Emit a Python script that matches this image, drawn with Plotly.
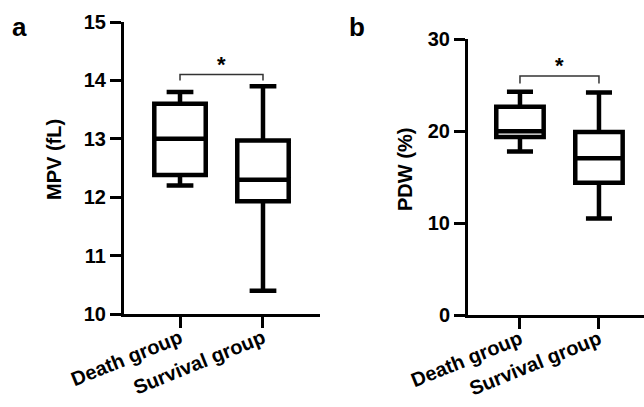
import plotly.graph_objects as go

groups = ["Death group", "Survival group"]

# Panel a: MPV (fL)
mpv_min = [12.2, 10.4]
mpv_q1 = [12.38, 11.93]
mpv_med = [13.0, 12.3]
mpv_q3 = [13.6, 12.97]
mpv_max = [13.8, 13.9]
mpv_sig_y = 14.1
mpv_ticks = [10, 11, 12, 13, 14, 15]

# Panel b: PDW (%)
pdw_min = [17.8, 10.5]
pdw_q1 = [19.37, 14.4]
pdw_med = [20.0, 17.05]
pdw_q3 = [22.65, 19.9]
pdw_max = [24.3, 24.2]
pdw_sig_y = 26.0
pdw_ticks = [0, 10, 20, 30]

FONT = "Arial, Liberation Sans, sans-serif"
W, H = 644, 407

fig = go.Figure()

fig.add_trace(go.Box(
    x=groups, q1=mpv_q1, median=mpv_med, q3=mpv_q3,
    lowerfence=mpv_min, upperfence=mpv_max,
    width=0.62, whiskerwidth=0.52, boxpoints=False,
    fillcolor="white", line=dict(color="black", width=4.5),
    xaxis="x", yaxis="y", showlegend=False, hoverinfo="skip",
))
fig.add_trace(go.Box(
    x=groups, q1=pdw_q1, median=pdw_med, q3=pdw_q3,
    lowerfence=pdw_min, upperfence=pdw_max,
    width=0.6, whiskerwidth=0.55, boxpoints=False,
    fillcolor="white", line=dict(color="black", width=4.5),
    xaxis="x2", yaxis="y2", showlegend=False, hoverinfo="skip",
))

def py(pix):
    return 1 - pix / H

tickfont = dict(family=FONT, size=20, color="black", weight="bold")
common_x = dict(type="category", showline=True, linecolor="black", linewidth=3,
                ticks="outside", ticklen=11, tickwidth=3, tickcolor="black",
                tickangle=-22, tickfont=tickfont, showgrid=False, zeroline=False,
                automargin=False, fixedrange=True, ticklabelstandoff=-9)
common_y = dict(showline=True, linecolor="black", linewidth=3,
                ticks="outside", ticklen=11, tickwidth=3, tickcolor="black",
                tickfont=tickfont, showgrid=False, zeroline=False,
                automargin=False, fixedrange=True)

fig.update_layout(
    width=W, height=H,
    margin=dict(l=0, r=0, t=0, b=0),
    template="none",
    paper_bgcolor="white", plot_bgcolor="white",
    xaxis=dict(common_x, domain=[124 / W, 320 / W], range=[-0.675, 1.687], anchor="y"),
    yaxis=dict(common_y, domain=[py(314), py(22)], range=[10, 15], tickvals=mpv_ticks, anchor="x"),
    xaxis2=dict(common_x, domain=[468 / W, 1.0], range=[-0.658, 1.57], anchor="y2"),
    yaxis2=dict(common_y, domain=[py(315), py(39.3)], range=[0, 30], tickvals=pdw_ticks, anchor="x2"),
)

# significance brackets
for xr, yr, sy, drop in [("x", "y", mpv_sig_y, 0.1), ("x2", "y2", pdw_sig_y, 0.8)]:
    fig.add_shape(type="path", xref=xr, yref=yr,
                  path=f"M 0,{sy - drop} L 0,{sy} L 1,{sy} L 1,{sy - drop}",
                  line=dict(color="#333333", width=1.5))
    fig.add_annotation(x=0.5, y=sy, xref=xr, yref=yr, text="*", showarrow=False,
                       yanchor="bottom", yshift=-4,
                       font=dict(family=FONT, size=22, color="black", weight="bold"))

# axis titles
fig.add_annotation(x=54 / W, y=py(160), xref="paper", yref="paper", text="MPV (fL)",
                   textangle=-90, showarrow=False, xanchor="center", yanchor="middle",
                   font=dict(family=FONT, size=20, color="black", weight="bold"))
fig.add_annotation(x=405 / W, y=py(170), xref="paper", yref="paper", text="PDW (%)",
                   textangle=-90, showarrow=False, xanchor="center", yanchor="middle",
                   font=dict(family=FONT, size=20, color="black", weight="bold"))

# panel labels
fig.add_annotation(x=19 / W, y=py(27), xref="paper", yref="paper", text="a",
                   showarrow=False, xanchor="center", yanchor="middle",
                   font=dict(family=FONT, size=26, color="black", weight="bold"))
fig.add_annotation(x=357 / W, y=py(27), xref="paper", yref="paper", text="b",
                   showarrow=False, xanchor="center", yanchor="middle",
                   font=dict(family=FONT, size=26, color="black", weight="bold"))

fig.write_html("out.html")
